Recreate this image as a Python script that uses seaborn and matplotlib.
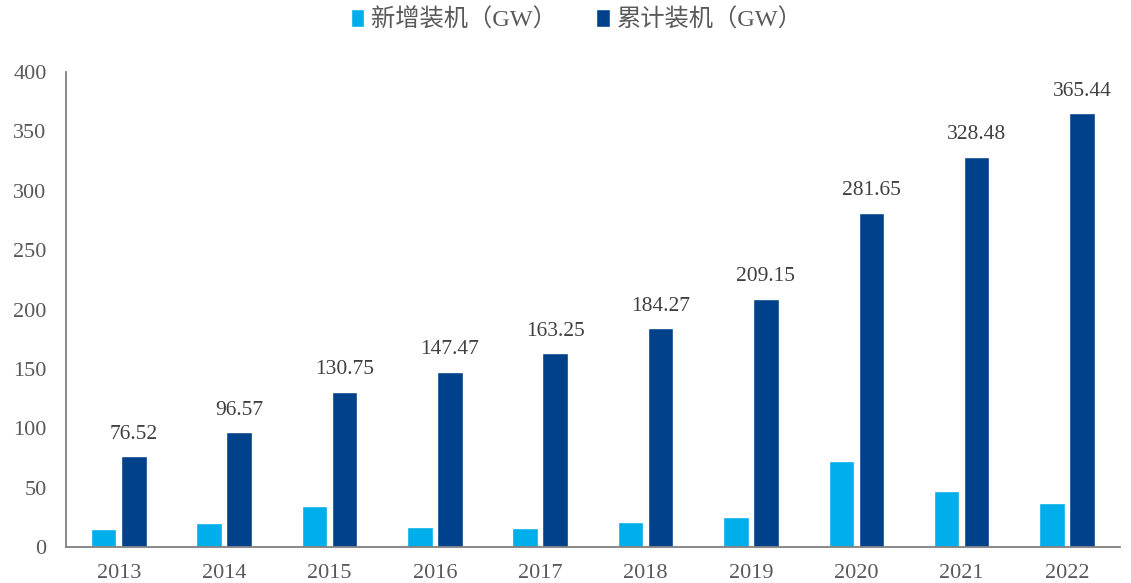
import matplotlib
matplotlib.use("Agg")
import matplotlib.pyplot as plt
import seaborn as sns
import pandas as pd
import numpy as np
from matplotlib.ticker import FixedLocator

years = ["2013", "2014", "2015", "2016", "2017", "2018", "2019", "2020", "2021", "2022"]
new_gw = [15.0, 20.0, 34.2, 16.7, 15.8, 21.0, 24.9, 72.5, 46.8, 37.0]
cum_gw = [76.52, 96.57, 130.75, 147.47, 163.25, 184.27, 209.15, 281.65, 328.48, 365.44]
series_names = ["新增装机（GW）", "累计装机（GW）"]
colors = ["#00AEEB", "#00418B"]

sns.set_theme(style="white")
plt.rcParams["font.family"] = ["Liberation Serif", "Noto Sans CJK SC"]

df = pd.DataFrame({
    "year": years * 2,
    "value": new_gw + cum_gw,
    "series": [series_names[0]] * len(years) + [series_names[1]] * len(years),
})

fig = plt.figure(figsize=(11.31, 5.83), dpi=100)
ax = fig.add_axes([0.0584, 0.0617, 0.9316, 0.8148])
sns.barplot(data=df, x="year", y="value", hue="series", palette=colors,
            width=0.57, gap=0.15, ax=ax, legend=True, saturation=1)

ax.set_ylim(0, 400)
ax.set_xlim(-0.5, len(years) - 0.5)
ax.set_yticks(range(0, 401, 50))
ax.set_xlabel("")
ax.set_ylabel("")
txt = "#595959"
ax.tick_params(axis="y", length=0, labelsize=16, labelcolor=txt, pad=14)
ax.tick_params(axis="x", which="major", length=0, labelsize=16, labelcolor=txt, pad=12)
ax.xaxis.set_minor_locator(FixedLocator(np.arange(0.5, len(years) - 0.5, 1.0)))
ax.tick_params(axis="x", which="minor", length=6, width=1.3, color="#808080", direction="inout")
for s in ["top", "right"]:
    ax.spines[s].set_visible(False)
for s in ["left", "bottom"]:
    ax.spines[s].set_color("#808080")
    ax.spines[s].set_linewidth(1.3)

# data labels on cumulative bars
cont = ax.containers[1]
ax.bar_label(cont, labels=[f"{v:.2f}" for v in cum_gw], padding=9, fontsize=15.5, color="#404040")

handles, labels = ax.get_legend_handles_labels()
ax.get_legend().remove()
leg = fig.legend(handles, labels, loc="center", bbox_to_anchor=(0.51, 1 - 20 / 583), ncol=2,
                 frameon=False, fontsize=17.5, handlelength=0.55, handleheight=0.8,
                 handletextpad=0.3, columnspacing=1.6)
for t in leg.get_texts():
    t.set_color(txt)

fig.savefig("out.png", dpi=100)
